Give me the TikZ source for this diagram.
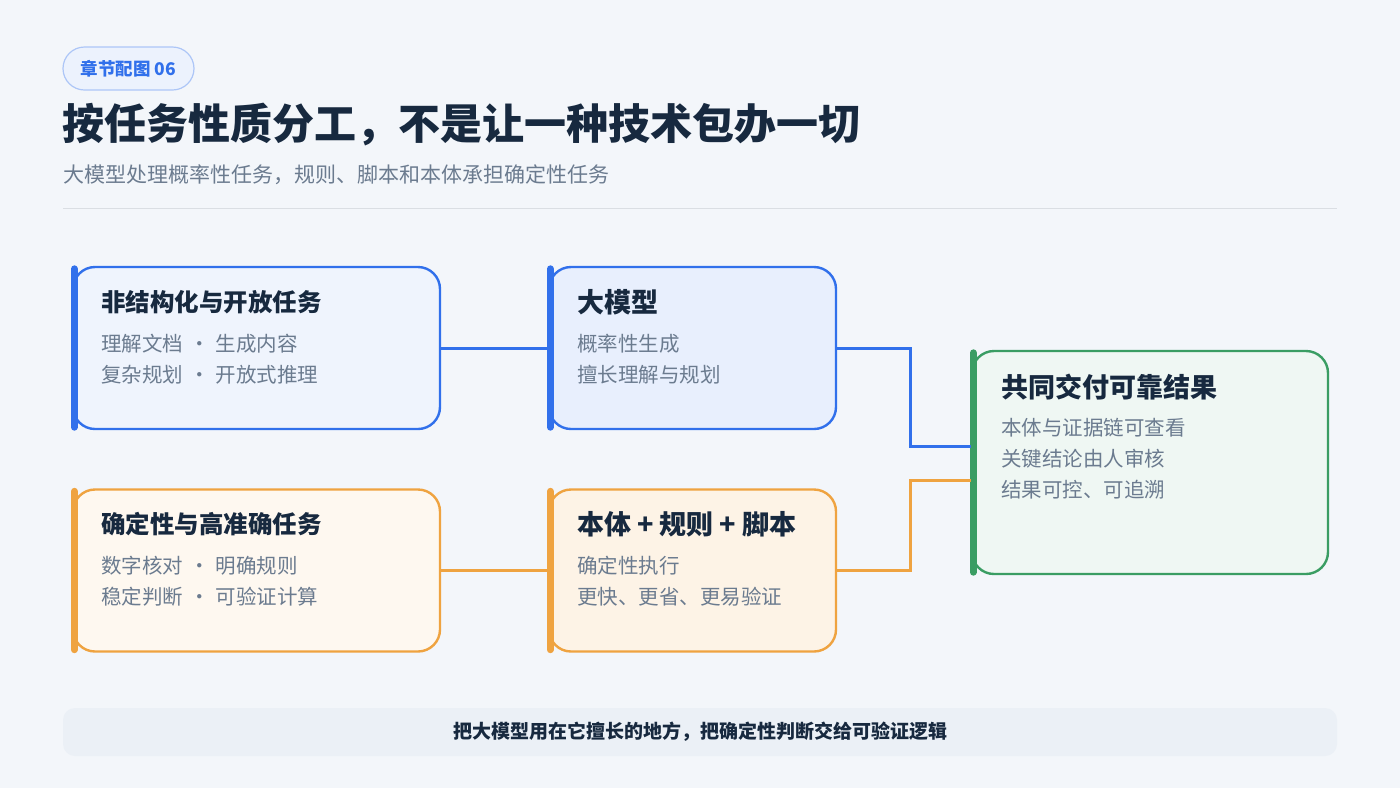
\documentclass[tikz,border=0pt]{standalone}
\usepackage{fontspec}
\setmainfont{Noto Sans CJK SC}
\usepackage{tikz}
\usetikzlibrary{positioning,calc}
\definecolor{pagebg}{HTML}{F3F6FA}
\definecolor{notebg}{HTML}{EBF0F6}
\definecolor{inkdark}{HTML}{17293F}
\definecolor{inkgray}{HTML}{6B7B8F}
\definecolor{llmblue}{HTML}{3170EB}
\definecolor{ruleorange}{HTML}{EFA340}
\definecolor{okgreen}{HTML}{3A9D63}

\begin{document}
\begin{tikzpicture}[
  x=1pt, y=-1pt,
  card/.style={rounded corners=22pt, line width=2.4pt, minimum width=367pt, minimum height=162pt, inner sep=0pt},
  midcard/.style={card, minimum width=287pt},
  head/.style={anchor=west, inner sep=0pt, text=inkdark, font=\bfseries\fontsize{24.5}{28}\selectfont},
  bighead/.style={head, font=\bfseries\fontsize{27}{31}\selectfont},
  body/.style={anchor=west, inner sep=0pt, text=inkgray, font=\fontsize{20.5}{24}\selectfont},
  bar/.style={line width=7pt, line cap=round},
  link/.style={line width=3pt},
]
\newcommand{\sep}{\hspace{0.3em}·\hspace{0.3em}}
\fill[pagebg] (0,0) rectangle (1400,788);
\useasboundingbox (0,0) rectangle (1400,788);
% header
\node[draw=llmblue!40, fill=llmblue!9, line width=1.2pt, rounded corners=21.5pt, minimum width=131pt, minimum height=43pt, inner sep=0pt, text=llmblue, font=\bfseries\fontsize{17.5}{20}\selectfont] (tag) at (128.5,68.5) {章节配图 06};
\node[anchor=west, inner sep=0pt, text=inkdark, font=\bfseries\fontsize{42}{46}\selectfont] (title) at (62,125) {按任务性质分工，不是让一种技术包办一切};
\node[anchor=west, inner sep=0pt, text=inkgray, font=\fontsize{21}{24}\selectfont] (subtitle) at (63,175) {大模型处理概率性任务，规则、脚本和本体承担确定性任务};
\draw[draw=inkgray!25, line width=1pt] (63,208) -- (1337,208);
% ---- row a: open tasks -> LLM ----
\node[card, draw=llmblue, fill=llmblue!8] (b1) at (256.5,348) {};
\draw[bar, llmblue] ([xshift=2.5pt,yshift=-3pt]b1.north west) -- ([xshift=2.5pt,yshift=3pt]b1.south west);
\node[head] (t1) at ($(b1.north west)+(29,36)$) {非结构化与开放任务};
\node[body] (l1a) at ($(b1.north west)+(29,77.5)$) {理解文档\sep 生成内容};
\node[body] (l1b) at ($(b1.north west)+(29,108.5)$) {复杂规划\sep 开放式推理};
\node[midcard, draw=llmblue, fill=llmblue!11] (b2) at (692.5,348) {};
\draw[bar, llmblue] ([xshift=2.5pt,yshift=-3pt]b2.north west) -- ([xshift=2.5pt,yshift=3pt]b2.south west);
\node[bighead] (t2) at ($(b2.north west)+(29,36)$) {大模型};
\node[body] (l2a) at ($(b2.north west)+(29,77.5)$) {概率性生成};
\node[body] (l2b) at ($(b2.north west)+(29,108.5)$) {擅长理解与规划};
% ---- row b: exact tasks -> rules ----
\node[card, draw=ruleorange, fill=ruleorange!8] (b3) at (256.5,570.5) {};
\draw[bar, ruleorange] ([xshift=2.5pt,yshift=-3pt]b3.north west) -- ([xshift=2.5pt,yshift=3pt]b3.south west);
\node[head] (t3) at ($(b3.north west)+(29,36)$) {确定性与高准确任务};
\node[body] (l3a) at ($(b3.north west)+(29,77.5)$) {数字核对\sep 明确规则};
\node[body] (l3b) at ($(b3.north west)+(29,108.5)$) {稳定判断\sep 可验证计算};
\node[midcard, draw=ruleorange, fill=ruleorange!13] (b4) at (692.5,570.5) {};
\draw[bar, ruleorange] ([xshift=2.5pt,yshift=-3pt]b4.north west) -- ([xshift=2.5pt,yshift=3pt]b4.south west);
\node[bighead] (t4) at ($(b4.north west)+(29,36)$) {本体 + 规则 + 脚本};
\node[body] (l4a) at ($(b4.north west)+(29,77.5)$) {确定性执行};
\node[body] (l4b) at ($(b4.north west)+(29,108.5)$) {更快、更省、更易验证};
% ---- result ----
\node[card, draw=okgreen, fill=okgreen!8, minimum width=356pt, minimum height=223pt] (b5) at (1150,462.5) {};
\draw[bar, okgreen] ([xshift=2.5pt,yshift=-3pt]b5.north west) -- ([xshift=2.5pt,yshift=3pt]b5.south west);
\node[bighead] (t5) at ($(b5.north west)+(30,37)$) {共同交付可靠结果};
\node[body] (l5a) at ($(b5.north west)+(30,77.5)$) {本体与证据链可查看};
\node[body] (l5b) at ($(b5.north west)+(30,108.5)$) {关键结论由人审核};
\node[body] (l5c) at ($(b5.north west)+(30,140)$) {结果可控、可追溯};
% links
\draw[link, llmblue] (b1.east) -- (b2.west);
\draw[link, llmblue] (b2.east) -- ++(73,0) |- ([yshift=16.5pt]b5.west);
\draw[link, ruleorange] (b3.east) -- (b4.west);
\draw[link, ruleorange] (b4.east) -- ++(73,0) |- ([yshift=-17.5pt]b5.west);
% bottom note
\node[fill=notebg, rounded corners=12pt, minimum width=1274pt, minimum height=48pt, inner sep=0pt, text=inkdark, font=\bfseries\fontsize{19}{22}\selectfont] (note) at (700,732) {把大模型用在它擅长的地方，把确定性判断交给可验证逻辑};
\end{tikzpicture}
\end{document}
